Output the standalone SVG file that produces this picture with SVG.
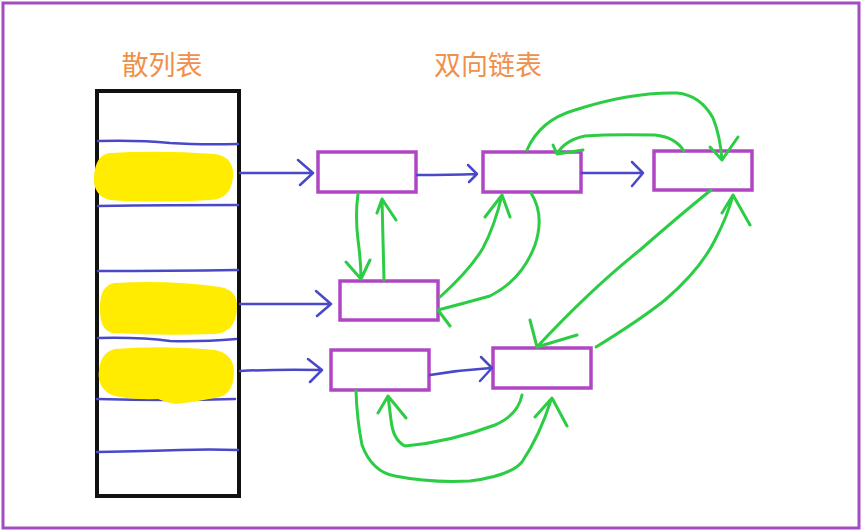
<svg xmlns="http://www.w3.org/2000/svg" width="864" height="532" viewBox="0 0 864 532">
<style>
.title{font-family:"Noto Sans CJK SC","Noto Sans",sans-serif;font-size:27px;fill:#f0904a;text-anchor:middle}
.node{fill:#fff;stroke:#b046c4;stroke-width:3.5}
.blue{fill:none;stroke:#4848c8;stroke-width:2.5;stroke-linecap:round;stroke-linejoin:round}
.green{fill:none;stroke:#2ccc44;stroke-width:3;stroke-linecap:round;stroke-linejoin:round}
.blob{fill:#ffec00}
</style>
<rect x="0" y="0" width="864" height="532" fill="#fff"/>
<rect x="3" y="3" width="856" height="525" fill="none" stroke="#a24cc2" stroke-width="3"/>
<text class="title" x="162" y="75">散列表</text>
<text class="title" x="488" y="75">双向链表</text>
<g id="hashtable">
<rect x="97" y="91" width="142" height="405" fill="#fff" stroke="#111" stroke-width="4"/>
<path class="blue" d="M98 141 Q140 140 170 143 Q200 145 238 144"/>
<path class="blue" d="M98 206 Q170 205 238 205"/>
<path class="blue" d="M98 271 Q170 271 238 270"/>
<path class="blue" d="M98 338 Q140 337 170 341 Q200 342 236 339"/>
<path class="blue" d="M97 399 Q170 401 235 399"/>
<path class="blue" d="M97 452 Q150 451 180 450 Q210 449 238 450"/>
<path class="blob" d="M110 153 Q160 150 215 154 Q234 157 233 176 Q232 199 210 200 Q150 203 110 200 Q93 196 94 177 Q95 155 110 153Z"/>
<path class="blob" d="M115 283 Q170 280 220 287 Q238 290 237 308 Q236 332 215 334 Q160 336 112 333 Q100 330 100 310 Q99 285 115 283Z"/>
<path class="blob" d="M115 349 Q160 345 215 350 Q235 354 234 374 Q233 396 215 398 Q195 402 175 404 Q165 402 158 399 Q120 400 108 393 Q97 385 99 370 Q101 352 115 349Z"/>
</g>
<g id="n1"><rect class="node" x="318" y="152" width="98" height="40"/></g>
<g id="n2"><rect class="node" x="483" y="152" width="98" height="40"/></g>
<g id="n3"><rect class="node" x="654" y="151" width="98" height="39"/></g>
<g id="n4"><rect class="node" x="340" y="281" width="98" height="39"/></g>
<g id="n5"><rect class="node" x="331" y="350" width="98" height="40"/></g>
<g id="n6"><rect class="node" x="493" y="348" width="98" height="40"/></g>
<g id="connectors">
<path class="blue" d="M240 173 L312 173 M298 160 L313 173 L300 185"/>
<path class="blue" d="M240 304 L331 304 M316 291 L331 304 L317 316"/>
<path class="blue" d="M240 371 Q280 369 321 370 M308 359 L322 370 L310 382"/>
<path class="blue" d="M417 175 Q450 175 477 174 M468 165 L477 174 L469 182"/>
<path class="blue" d="M582 173 L643 173 M632 162 L643 173 L632 186"/>
<path class="blue" d="M430 375 Q460 370 491 368 M481 357 L492 368 L480 381"/>
<path class="green" d="M358 194 Q355 215 358 240 Q361 262 361 279 M346 262 L361 279 L370 260"/>
<path class="green" d="M384 280 L382 199 M377 213 L382 199 L396 220"/>
<path class="green" d="M440 297 Q470 270 483 248 Q495 225 502 195 M485 217 L502 195 L510 217"/>
<path class="green" d="M531 193 Q545 215 535 245 Q522 280 490 296 Q465 303 438 310 M438 310 L450 326"/>
<path class="green" d="M527 150 Q540 120 575 110 Q630 92 677 93 Q700 95 713 118 Q720 135 722 160 M710 147 L722 160 L738 137"/>
<path class="green" d="M684 151 Q675 137 655 135 Q610 134 585 136 Q565 140 557 154 M553 145 L557 154 L583 150"/>
<path class="green" d="M711 190 Q680 215 640 250 Q590 290 537 347 M530 320 L537 347 L577 335"/>
<path class="green" d="M596 347 Q640 320 665 300 Q700 270 715 240 Q728 215 733 195 M722 213 L733 195 L750 225"/>
<path class="green" d="M522 395 Q518 415 495 425 Q450 442 405 446 Q393 440 391 420 L388 396 M378 413 L388 396 L406 418"/>
<path class="green" d="M356 391 Q357 420 362 445 Q372 472 395 476 Q430 483 470 481 Q510 476 522 462 Q540 435 551 400 M535 417 L552 398 L567 426"/>
</g>
</svg>
